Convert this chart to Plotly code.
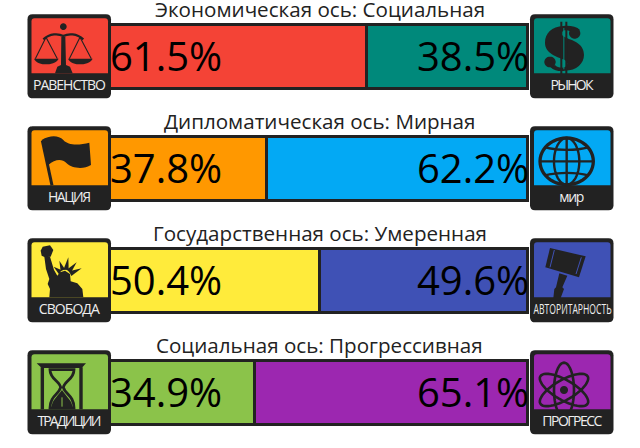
import json, math, re
import plotly.graph_objects as go

# ---- data ----
axis_titles = ["Экономическая ось: Социальная", "Дипломатическая ось: Мирная",
               "Государственная ось: Умеренная", "Социальная ось: Прогрессивная"]
left_values = [61.5, 37.8, 50.4, 34.9]
right_values = [38.5, 62.2, 49.6, 65.1]
left_names = ["РАВЕНСТВО", "НАЦИЯ", "СВОБОДА", "ТРАДИЦИИ"]
right_names = ["РЫНОК", "мир", "АВТОРИТАРНОСТЬ", "ПРОГРЕСС"]
left_colors = ["#F44336", "#FF9800", "#FFEB3B", "#8BC34A"]
right_colors = ["#00897B", "#03A9F4", "#3F51B5", "#9C27B0"]
label_widths = {"РАВЕНСТВО": 73, "НАЦИЯ": 43, "СВОБОДА": 61, "ТРАДИЦИИ": 64,
                "РЫНОК": 43, "мир": 25, "АВТОРИТАРНОСТЬ": 78, "ПРОГРЕСС": 60}
rows = [0, 1, 2, 3]

W, H = 640, 448
DARK = "#222222"
FONT = "Open Sans"


def fx(px):
    return px / W


def fy(py):
    return 1 - py / H


def pth(d, ox, oy):
    """Turn a path written in 3x crop coordinates into paper coordinates."""
    toks = re.findall(r"[MLCQZ]|-?\d+\.?\d*", d)
    out, is_x = [], True
    for t in toks:
        if t in "MLCQZ":
            out.append(t)
        elif is_x:
            out.append(f"{fx(float(t) / 3 + ox):.5f}")
            is_x = False
        else:
            out.append(f"{fy(float(t) / 3 + oy):.5f}")
            is_x = True
    return " ".join(out)


def ell(cx, cy, rx, ry, rot=0.0):
    a = math.radians(rot)
    pts = []
    for i in range(48):
        t = 2 * math.pi * i / 48
        x, y = rx * math.cos(t), ry * math.sin(t)
        pts.append((cx + x * math.cos(a) - y * math.sin(a), cy + x * math.sin(a) + y * math.cos(a)))
    return "M" + " L".join(f"{p[0]:.1f} {p[1]:.1f}" for p in pts) + " Z"


shapes = []


def add(d, ox, oy, fill=DARK, line=None, lw=0):
    s = dict(type="path", xref="paper", yref="paper", path=pth(d, ox, oy), layer="above",
             line=dict(color=line or "rgba(0,0,0,0)", width=lw))
    s["fillcolor"] = fill if fill else "rgba(0,0,0,0)"
    shapes.append(s)


def stroke(d, ox, oy, w, color=DARK):
    add(d, ox, oy, fill=None, line=color, lw=w)


def rrect(x0, y0, x1, y1, r, rb=None):
    rb = r if rb is None else rb
    return (f"M{x0 + r} {y0} L{x1 - r} {y0} Q{x1} {y0} {x1} {y0 + r} L{x1} {y1 - rb} Q{x1} {y1} {x1 - rb} {y1} "
            f"L{x0 + rb} {y1} Q{x0} {y1} {x0} {y1 - rb} L{x0} {y0 + r} Q{x0} {y0} {x0 + r} {y0} Z")


def box(x0, row, color):
    oy = 112 * row
    add(rrect(x0 * 3, 43, (x0 + 83.5) * 3, 295, 15), 0, oy, fill=DARK)
    add(rrect((x0 + 4) * 3, 55, (x0 + 80.5) * 3, 220, 9, 0), 0, oy, fill=color)


for r in rows:
    box(27.5, r, left_colors[r])
    box(530, r, right_colors[r])

# scales
add("M165 220 L172 200 L183 195 L184 110 L196 110 L198 195 L210 200 L218 220 Z", 0, 0)
add(ell(190, 80, 10, 10), 0, 0)
stroke("M130 118 C150 100 175 100 190 108 C205 100 230 100 250 118", 0, 0, 2.2)
stroke("M138 112 L106 176 M138 112 L172 176", 0, 0, 1.1)
stroke("M240 112 L208 176 M240 112 L274 176", 0, 0, 1.1)
add("M102 176 L176 176 C170 190 150 193 138 193 C125 193 108 190 102 176 Z", 0, 0)
add("M204 176 L278 176 C272 190 252 193 240 193 C227 193 210 190 204 176 Z", 0, 0)

# flag
stroke("M127 422 L156 556", 0, 0, 3)
add("M125 420 C150 405 175 405 190 420 C205 438 240 435 268 428 L273 495 C250 510 215 505 200 490 "
    "C185 475 165 478 145 495 Z", 0, 0)

# dollar
add("M730 78 C695 80 675 100 675 128 C675 160 710 170 730 178 C742 184 745 192 738 199 C730 207 712 203 705 195 "
    "L690 200 C705 215 725 214 735 212 C770 212 792 190 792 165 C792 130 760 122 738 113 C722 106 722 97 730 92 "
    "C742 88 755 95 762 105 L780 90 C770 80 750 76 730 78 Z", 320, 0)
add(ell(764, 100, 17, 16), 320, 0)
add(ell(690, 186, 17, 16), 320, 0)
stroke("M724 65 L724 222 M739 65 L739 222", 320, 0, 2)
add("M730 84 L733 84 L733 208 L730 208 Z", 320, 0, fill=right_colors[0])

# globe
stroke(ell(740, 484, 80, 70), 320, 0, 3.3)
stroke(ell(740, 484, 38, 70), 320, 0, 2.4)
stroke("M740 414 L740 554 M660 484 L820 484", 320, 0, 2.4)
stroke("M675 442 C710 452 770 452 805 442 M675 526 C710 516 770 516 805 526", 320, 0, 2.4)

# liberty
add("M122 80 L128 68 L150 64 L160 78 L152 98 L135 100 L125 95 Z", 0, 224)
add("M133 98 L150 98 L162 138 L172 155 L180 145 L195 140 L210 150 L212 172 L232 178 L247 195 L250 220 L148 220 "
    "L150 195 L143 180 L148 165 L138 135 Z", 0, 224)
for tip, base in [("161 128", "178 152 184 138"), ("178 110", "182 142 195 136"), ("205 100", "190 137 206 138"),
                  ("230 115", "200 137 212 148"), ("245 133", "207 142 214 156")]:
    b = base.split()
    add(f"M{tip} L{b[0]} {b[1]} L{b[2]} {b[3]} Z", 0, 224)

# gavel
add("M690 72 L797 97 L777 160 L676 130 Z", 320, 224)
stroke("M703 78 L690 130 M784 100 L768 150", 320, 224, 1, right_colors[2])
add("M718 148 L742 155 L727 190 L732 195 L722 222 L700 222 L703 195 L708 190 Z", 320, 224)

# hourglass
add("M110 418 L258 418 L245 432 L125 432 Z", 0, 224)
stroke("M127 430 L127 556 M243 430 L243 556", 0, 224, 3.4)
stroke("M150 437 L222 437 C222 465 195 470 190 490 C195 510 222 515 222 552 L150 552 C150 515 178 510 182 490 "
       "C178 470 150 465 150 437 Z", 0, 224, 2.8)
add("M186 498 C170 520 155 530 155 550 L217 550 C217 530 200 520 186 498 Z", 0, 224)
stroke("M186 520 L186 548", 0, 224, 1, left_colors[3])

# atom
for rot in (30, -30, 90):
    stroke(ell(732, 498, 82, 30, rot), 320, 224, 2.6)
add(ell(732, 498, 12, 12), 320, 224)

# ---- annotations ----
ann = []
for r in rows:
    ann.append(dict(x=50, y=r, xref="x", yref="y", text=axis_titles[r], showarrow=False, xanchor="center",
                    yanchor="middle", xshift=2, yshift=47.5, font=dict(family=FONT, size=20.6, color="#222")))
    ann.append(dict(x=0, y=r, xref="x", yref="y", text=f"{left_values[r]}%", showarrow=False, xanchor="left",
                    yanchor="middle", xshift=0, yshift=1, font=dict(family=FONT, size=40, color="#000")))
    ann.append(dict(x=100, y=r, xref="x", yref="y", text=f"{right_values[r]}%", showarrow=False, xanchor="right",
                    yanchor="middle", xshift=3, yshift=1, font=dict(family=FONT, size=40, color="#000")))
    ann.append(dict(x=69.5 / W, y=fy(84.5 + 112 * r), xref="paper", yref="paper", text=left_names[r], showarrow=False,
                    xanchor="center", yanchor="middle", font=dict(family=FONT, size=14, color="#EEEEEE")))
    ann.append(dict(x=572 / W, y=fy(84.5 + 112 * r), xref="paper", yref="paper", text=right_names[r], showarrow=False,
                    xanchor="center", yanchor="middle", font=dict(family=FONT, size=14, color="#EEEEEE")))

fig = go.Figure()
fig.add_bar(y=rows, x=left_values, orientation="h", width=0.572,
            marker=dict(color=left_colors, line=dict(color=DARK, width=3)), hoverinfo="skip")
fig.add_bar(y=rows, x=right_values, orientation="h", width=0.572,
            marker=dict(color=right_colors, line=dict(color=DARK, width=3)), hoverinfo="skip")

SCALE = 4.194
fig.update_layout(
    width=W, height=H, margin=dict(l=0, r=0, t=0, b=0), barmode="stack", showlegend=False,
    paper_bgcolor="white", plot_bgcolor="white", shapes=shapes, annotations=ann,
    xaxis=dict(range=[-108.2 / SCALE, (W - 108.2) / SCALE], visible=False, fixedrange=True),
    yaxis=dict(range=[(H - 56.5) / 112, -56.5 / 112], visible=False, fixedrange=True),
)

post = """
document.body.style.margin = '0';
var widths = %s;
function squeeze() {
  document.querySelectorAll('text.annotation-text').forEach(function (t) {
    var w = widths[t.textContent];
    if (w) {
      t.setAttribute('textLength', w);
      t.setAttribute('lengthAdjust', t.textContent.length > 10 ? 'spacingAndGlyphs' : 'spacing');
    }
  });
}
squeeze(); setTimeout(squeeze, 50); setTimeout(squeeze, 300);
""" % json.dumps(label_widths, ensure_ascii=False)

fig.write_html("out.html", post_script=post, config=dict(displayModeBar=False))
